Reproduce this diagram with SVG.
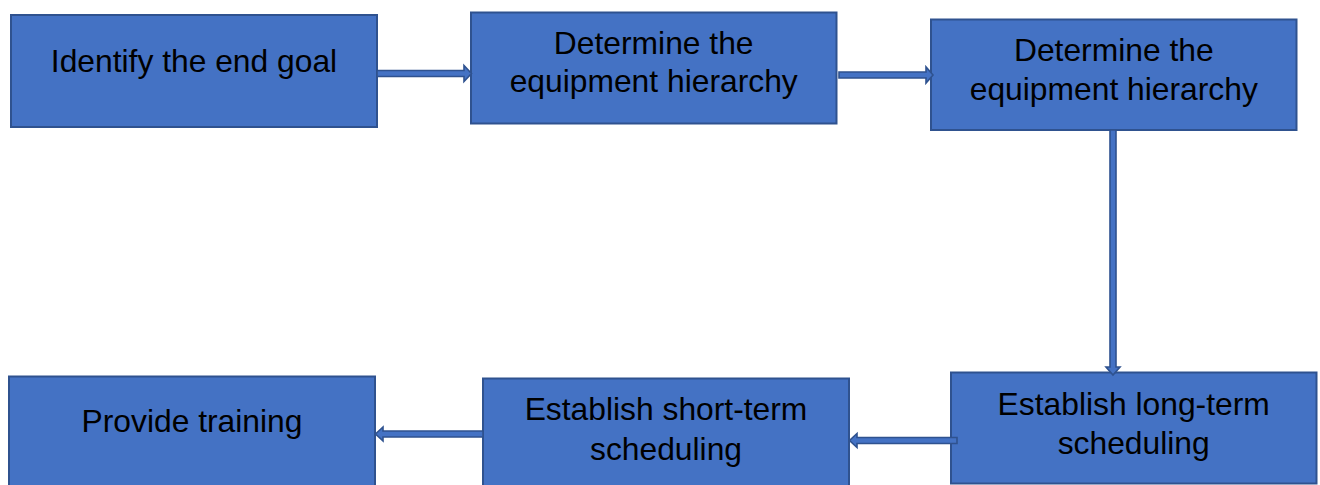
<svg xmlns="http://www.w3.org/2000/svg" width="1320" height="485" viewBox="0 0 1320 485">
<style>
.box{fill:#4472C4;stroke:#2F528F;stroke-width:2}
.lbl{font-family:"Liberation Sans",Arial,sans-serif;font-size:31.8px;fill:#000;text-anchor:middle}
.arr{fill:#4472C4;stroke:#2F528F;stroke-width:1.6;stroke-linejoin:miter}
</style>
<rect width="1320" height="485" fill="#fff"/>
<g id="n1">
<rect class="box" x="11" y="15" width="366" height="112"/>
<text class="lbl" x="194" y="72">Identify the end goal</text>
</g>
<g id="n2">
<rect class="box" x="471" y="12.5" width="365.5" height="111"/>
<text class="lbl" x="653.7" y="53.5">Determine the</text>
<text class="lbl" x="653.7" y="92">equipment hierarchy</text>
</g>
<g id="n3">
<rect class="box" x="931" y="19.5" width="365.5" height="110.5"/>
<text class="lbl" x="1113.8" y="61">Determine the</text>
<text class="lbl" x="1113.8" y="100">equipment hierarchy</text>
</g>
<g id="n4">
<rect class="box" x="951" y="372.5" width="365.5" height="111"/>
<text class="lbl" x="1133.7" y="414.5">Establish long-term</text>
<text class="lbl" x="1133.7" y="453.5">scheduling</text>
</g>
<g id="n5">
<rect class="box" x="483" y="378.5" width="366" height="112"/>
<text class="lbl" x="666" y="420">Establish short-term</text>
<text class="lbl" x="666" y="459.5">scheduling</text>
</g>
<g id="n6">
<rect class="box" x="9" y="376.5" width="366" height="112"/>
<text class="lbl" x="192" y="431.5">Provide training</text>
</g>
<g id="connectors">
<path class="arr" d="M377,70.5 L464,70.5 L464,65.5 L471.5,73.5 L464,81.5 L464,76.5 L377,76.5 Z"/>
<path class="arr" d="M839,72 L926,72 L926,67 L933,75 L926,83 L926,78 L839,78 Z"/>
<path class="arr" d="M1110,130 L1110,367 L1106,367 L1113,375 L1120,367 L1116,367 L1116,130 Z"/>
<path class="arr" d="M957,437.5 L857,437.5 L857,433.5 L849.5,440.5 L857,447.5 L857,443.5 L957,443.5 Z"/>
<path class="arr" d="M483,431 L383,431 L383,427 L375.5,434 L383,441 L383,437 L483,437 Z"/>
</g>
</svg>
